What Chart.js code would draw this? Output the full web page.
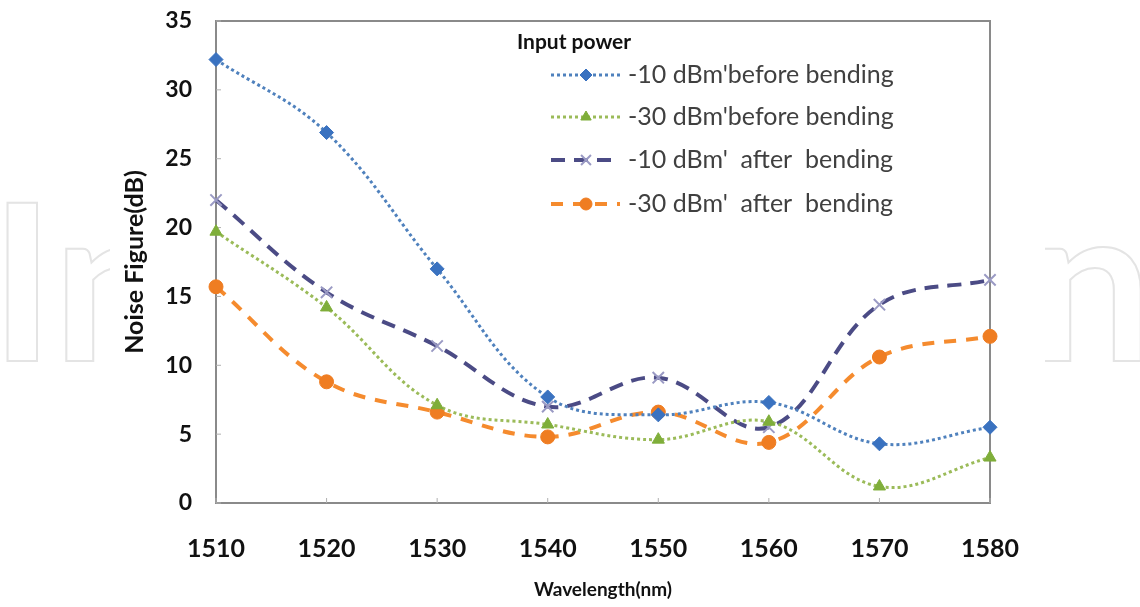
<!DOCTYPE html>
<html>
<head>
<meta charset="utf-8">
<script src="https://cdn.jsdelivr.net/npm/chart.js@4.4.1/dist/chart.umd.min.js"></script>
<style>
  html, body { margin: 0; padding: 0; background: #fff; }
  #wrap { width: 1140px; height: 607px; position: relative; }
</style>
</head>
<body>
<div id="wrap"><canvas id="nfChart"></canvas></div>
<script>
// data
const wavelengths = ['1510', '1520', '1530', '1540', '1550', '1560', '1570', '1580'];
const minus10Before = [32.2, 26.9, 17.0, 7.7, 6.4, 7.3, 4.3, 5.5];
const minus30Before = [19.7, 14.2, 7.1, 5.7, 4.6, 5.9, 1.2, 3.3];
const minus10After = [22.0, 15.3, 11.4, 7.0, 9.1, 5.5, 14.4, 16.2];
const minus30After = [15.7, 8.8, 6.6, 4.8, 6.6, 4.4, 10.6, 12.1];
const seriesNames = ["-10 dBm'before bending", "-30 dBm'before bending", "-10 dBm'  after  bending", "-30 dBm'  after  bending"];
const legendTitle = 'Input power';

const tickFont = "'Lato', 'Open Sans', sans-serif";

// faint watermark letters behind the figure
const watermark = {
    id: 'watermark',
    beforeDraw(chart) {
        const ctx = chart.ctx;
        ctx.save();
        ctx.fillStyle = '#fff';
        ctx.fillRect(0, 0, chart.width, chart.height);
        ctx.strokeStyle = '#e4e4e4';
        ctx.lineWidth = 2;
        ctx.font = "bold 218px 'Lato', sans-serif";
        ctx.textBaseline = 'alphabetic';
        ctx.beginPath();
        ctx.rect(0, 0, 110, chart.height);
        ctx.clip();
        ctx.strokeText('In', -10, 361);
        ctx.restore();
        ctx.save();
        ctx.strokeStyle = '#e4e4e4';
        ctx.lineWidth = 2;
        ctx.font = "bold 218px 'Lato', sans-serif";
        ctx.beginPath();
        ctx.rect(1045, 0, chart.width - 1045, chart.height);
        ctx.clip();
        ctx.strokeText('n', 1030, 361);
        ctx.restore();
    }
};

// plot frame with small inward ticks
const frame = {
    id: 'frame',
    beforeDatasetsDraw(chart) {
        const {ctx, chartArea: a, scales} = chart;
        ctx.save();
        ctx.strokeStyle = '#8a8a8a';
        ctx.lineWidth = 2;
        ctx.strokeRect(a.left, a.top, a.right - a.left, a.bottom - a.top);
        ctx.lineWidth = 1;
        ctx.strokeStyle = '#b0b0b0';
        scales.y.ticks.forEach(t => {
            const y = scales.y.getPixelForValue(t.value);
            ctx.beginPath();
            ctx.moveTo(a.left, y);
            ctx.lineTo(a.left + 5, y);
            ctx.stroke();
        });
        wavelengths.forEach((w, i) => {
            const x = scales.x.getPixelForValue(i);
            ctx.beginPath();
            ctx.moveTo(x, a.bottom);
            ctx.lineTo(x, a.bottom - 5);
            ctx.stroke();
        });
        ctx.restore();
    }
};

// legend drawn inside the plot, top right
const insideLegend = {
    id: 'insideLegend',
    afterDraw(chart) {
        const ctx = chart.ctx;
        ctx.save();
        ctx.fillStyle = '#111';
        ctx.font = "bold 21px 'Lato', sans-serif";
        ctx.textBaseline = 'middle';
        ctx.fillText(legendTitle, 517, 42);
        const rows = [75, 117, 160, 204];
        chart.data.datasets.forEach((ds, i) => {
            const y = rows[i];
            ctx.save();
            ctx.strokeStyle = ds.borderColor;
            ctx.lineWidth = ds.borderWidth;
            ctx.setLineDash(ds.borderDash);
            ctx.beginPath();
            ctx.moveTo(551, y);
            ctx.lineTo(620, y);
            ctx.stroke();
            ctx.setLineDash([]);
            ctx.fillStyle = ds.pointBackgroundColor;
            ctx.strokeStyle = ds.pointBorderColor;
            ctx.lineWidth = ds.pointBorderWidth;
            Chart.helpers.drawPoint(ctx, {
                pointStyle: ds.pointStyle,
                radius: ds.pointRadius - 1,
                rotation: 0,
                borderWidth: ds.pointBorderWidth
            }, 586, y);
            ctx.restore();
            ctx.fillStyle = '#404040';
            ctx.font = "25px 'Lato', sans-serif";
            ctx.textBaseline = 'middle';
            ctx.fillText(seriesNames[i], 628, y);
        });
        ctx.restore();
    }
};

const ctx = document.getElementById('nfChart').getContext('2d');
new Chart(ctx, {
    type: 'line',
    data: {
        labels: wavelengths,
        datasets: [
            {
                label: seriesNames[0],
                data: minus10Before,
                borderColor: '#4f81bd',
                borderWidth: 3,
                borderDash: [3, 3],
                pointStyle: 'rectRot',
                pointRadius: 7,
                pointBackgroundColor: '#3a72c0',
                pointBorderColor: '#3a72c0',
                pointBorderWidth: 1
            },
            {
                label: seriesNames[1],
                data: minus30Before,
                borderColor: '#9bbb59',
                borderWidth: 3,
                borderDash: [3, 3],
                pointStyle: 'triangle',
                pointRadius: 7,
                pointBackgroundColor: '#7fae3a',
                pointBorderColor: '#7fae3a',
                pointBorderWidth: 1
            },
            {
                label: seriesNames[2],
                data: minus10After,
                borderColor: '#4b4b85',
                borderWidth: 4,
                borderDash: [14, 9],
                pointStyle: 'crossRot',
                pointRadius: 8,
                pointBackgroundColor: '#9a9ac4',
                pointBorderColor: '#9a9ac4',
                pointBorderWidth: 2
            },
            {
                label: seriesNames[3],
                data: minus30After,
                borderColor: '#f58b2e',
                borderWidth: 4,
                borderDash: [12, 10],
                pointStyle: 'circle',
                pointRadius: 7,
                pointBackgroundColor: '#ef7d22',
                pointBorderColor: '#ef7d22',
                pointBorderWidth: 1
            }
        ]
    },
    options: {
        responsive: true,
        maintainAspectRatio: false,
        animation: false,
        layout: { padding: { left: 118, top: 21, right: 150, bottom: 0 } },
        elements: { line: { tension: 0.38, fill: false } },
        plugins: {
            legend: { display: false },
            tooltip: { enabled: false }
        },
        scales: {
            x: {
                type: 'category',
                offset: false,
                grid: { display: false, drawTicks: false },
                border: { display: false },
                ticks: { color: '#111', padding: 31, font: { family: tickFont, size: 25, weight: 'bold' } },
                title: {
                    display: true,
                    text: 'Wavelength(nm)',
                    color: '#111',
                    padding: { top: 0, bottom: 6 },
                    font: { family: tickFont, size: 19, weight: 'bold' }
                },
                afterFit(s) {
                    s.height = 104;
                    s.paddingLeft = 0;
                    s.paddingRight = 0;
                }
            },
            y: {
                min: 0,
                max: 35,
                grid: { display: false, drawTicks: false },
                border: { display: false },
                ticks: { stepSize: 5, color: '#111', padding: 24, font: { family: tickFont, size: 23, weight: 'bold' } },
                title: {
                    display: true,
                    text: 'Noise Figure(dB)',
                    color: '#111',
                    padding: { top: 2, bottom: 0 },
                    font: { family: tickFont, size: 25, weight: 'bold' }
                },
                afterFit(s) {
                    s.width = 98;
                    s.paddingTop = 0;
                    s.paddingBottom = 0;
                }
            }
        }
    },
    plugins: [watermark, frame, insideLegend]
});
</script>
</body>
</html>
